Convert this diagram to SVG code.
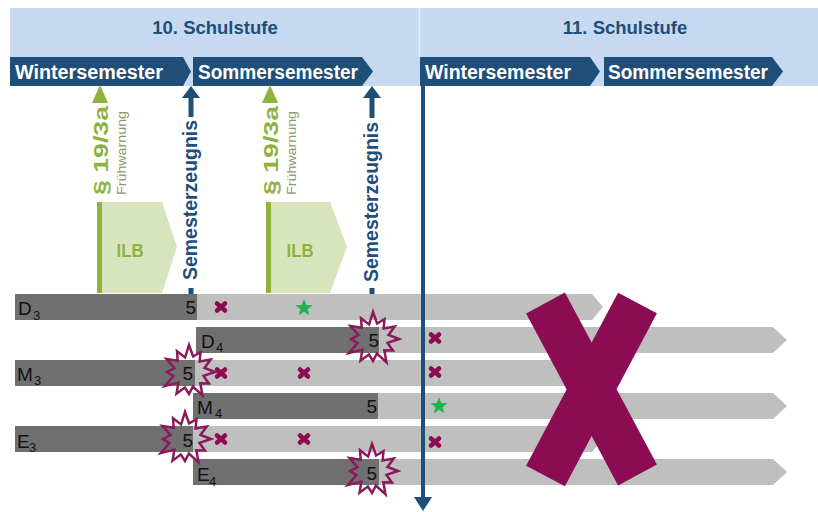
<svg xmlns="http://www.w3.org/2000/svg" xmlns:xlink="http://www.w3.org/1999/xlink" width="818" height="512" viewBox="0 0 818 512">
  <style>
    text { font-family: "Liberation Sans", Arial, sans-serif; }
    .title { font-size: 18.5px; font-weight: bold; fill: #1f4e79; text-anchor: middle; }
    .sem { font-size: 20px; font-weight: bold; fill: #ffffff; }
    .chev { fill: #1f4e79; }
    .par { font-size: 21px; font-weight: bold; fill: #8fb23e; }
    .fw { font-size: 13.5px; fill: #8c9a6a; }
    .zeug { font-size: 20px; font-weight: bold; fill: #1f4e79; }
    .ilb { fill: #d8e4be; }
    .ilbt { font-size: 19px; font-weight: bold; fill: #8fb23e; text-anchor: middle; }
    .light { fill: #bfbfbf; }
    .dark { fill: #707070; }
    .lbl { font-size: 19px; fill: #111111; }
    .sub { font-size: 13px; fill: #111111; }
    .five { font-size: 19px; fill: #111111; text-anchor: end; }
    .burst { fill: none; stroke: #8b1a5a; stroke-width: 2.5; stroke-linejoin: miter; }
    .cross { stroke: #8b0c52; stroke-width: 4.5; stroke-linecap: round; fill: none; }
    .star { fill: #21b24f; }
    .green { fill: #8fb23e; }
    .blue { fill: #1f4e79; }
  </style>
  <defs>
    <polygon id="burstShape" class="burst" points="26,0 14.5,3.9 19.9,11.5 11.3,11.3 13.5,23.4 3.9,14.5 0,22 -4.1,15.5 -12.5,21.7 -10.6,10.6 -24.2,14 -15.5,4.1 -22,0 -14.5,-3.9 -22.5,-13 -11.3,-11.3 -12,-20.8 -3.9,-14.5 0,-27 4.1,-15.5 11.5,-19.9 10.6,-10.6 21.7,-12.5 15.5,-4.1"/>
    <path id="crossShape" class="cross" d="M-4,-3.5 L4,3.5 M4,-3.5 L-4,3.5"/>
    <polygon id="starShape" class="star" points="0,-9 2.17,-2.99 8.56,-2.78 3.52,1.14 5.29,7.28 0,3.7 -5.29,7.28 -3.52,1.14 -8.56,-2.78 -2.17,-2.99"/>
  </defs>

  <rect width="818" height="512" fill="#ffffff"/>

  <g id="header">
    <rect x="10" y="8" width="808" height="78" fill="#c6d9f0"/>
    <line x1="419.5" y1="8" x2="419.5" y2="57" stroke="#e4edf8" stroke-width="1.5"/>
    <text class="title" x="215" y="34">10. Schulstufe</text>
    <text class="title" x="625" y="34">11. Schulstufe</text>
  </g>

  <g id="ws10">
    <polygon class="chev" points="10,57 183,57 191,71.5 183,86 10,86"/>
    <text class="sem" x="15" y="79" textLength="148" lengthAdjust="spacingAndGlyphs">Wintersemester</text>
  </g>
  <g id="ss10">
    <polygon class="chev" points="193,57 362,57 373,71.5 362,86 193,86"/>
    <text class="sem" x="198" y="79" textLength="160" lengthAdjust="spacingAndGlyphs">Sommersemester</text>
  </g>
  <g id="ws11">
    <polygon class="chev" points="420,57 590,57 600,71.5 590,86 420,86"/>
    <text class="sem" x="425" y="79" textLength="146" lengthAdjust="spacingAndGlyphs">Wintersemester</text>
  </g>
  <g id="ss11">
    <polygon class="chev" points="604,57 772,57 783,71.5 772,86 604,86"/>
    <text class="sem" x="608" y="79" textLength="160" lengthAdjust="spacingAndGlyphs">Sommersemester</text>
  </g>

  <g id="ilb1">
    <polygon class="ilb" points="102,202 162,202 177,247 162,293 102,293"/>
    <text class="ilbt" x="130" y="257" textLength="27" lengthAdjust="spacingAndGlyphs">ILB</text>
  </g>
  <g id="ilb2">
    <polygon class="ilb" points="271,202 330,202 347,247 330,293 271,293"/>
    <text class="ilbt" x="300" y="257" textLength="27" lengthAdjust="spacingAndGlyphs">ILB</text>
  </g>

  <g id="rows">
    <g id="row-D3">
      <polygon class="light" points="15,294 592,294 603,307 592,320 15,320"/>
      <rect class="dark" x="15" y="294" width="182" height="26"/>
      <text class="lbl" x="18" y="315">D</text><text class="sub" x="33" y="320">3</text>
      <text class="five" x="196" y="314">5</text>
    </g>
    <g id="row-D4">
      <polygon class="light" points="196,327 773,327 787,340 773,353 196,353"/>
      <rect class="dark" x="196" y="327" width="183" height="26"/>
      <text class="lbl" x="201" y="348">D</text><text class="sub" x="216" y="352">4</text>
      <text class="five" x="379" y="347">5</text>
    </g>
    <g id="row-M3">
      <polygon class="light" points="15,360 592,360 603,373 592,386 15,386"/>
      <rect class="dark" x="15" y="360" width="180" height="26"/>
      <text class="lbl" x="17" y="381">M</text><text class="sub" x="34" y="385">3</text>
      <text class="five" x="193" y="380">5</text>
    </g>
    <g id="row-M4">
      <polygon class="light" points="193,393 773,393 787,406 773,419 193,419"/>
      <rect class="dark" x="193" y="393" width="185" height="26"/>
      <text class="lbl" x="197" y="414">M</text><text class="sub" x="215" y="418">4</text>
      <text class="five" x="377" y="413">5</text>
    </g>
    <g id="row-E3">
      <polygon class="light" points="15,426 592,426 603,439 592,452 15,452"/>
      <rect class="dark" x="15" y="426" width="178" height="26"/>
      <text class="lbl" x="17" y="448">E</text><text class="sub" x="29" y="452">3</text>
      <text class="five" x="193" y="447">5</text>
    </g>
    <g id="row-E4">
      <polygon class="light" points="193,459 773,459 787,472 773,485 193,485"/>
      <rect class="dark" x="193" y="459" width="186" height="26"/>
      <text class="lbl" x="197" y="481">E</text><text class="sub" x="209" y="486">4</text>
      <text class="five" x="377" y="480">5</text>
    </g>
  </g>

  <g id="bursts">
    <use xlink:href="#burstShape" href="#burstShape" x="189" y="372"/>
    <use xlink:href="#burstShape" href="#burstShape" x="185" y="439"/>
    <use xlink:href="#burstShape" href="#burstShape" x="373" y="339"/>
    <use xlink:href="#burstShape" href="#burstShape" x="372" y="471"/>
  </g>

  <g id="marks">
    <use xlink:href="#crossShape" href="#crossShape" x="221" y="307"/>
    <use xlink:href="#crossShape" href="#crossShape" x="221" y="373"/>
    <use xlink:href="#crossShape" href="#crossShape" x="304" y="373"/>
    <use xlink:href="#crossShape" href="#crossShape" x="221" y="439"/>
    <use xlink:href="#crossShape" href="#crossShape" x="304" y="439"/>
    <use xlink:href="#crossShape" href="#crossShape" x="435" y="338"/>
    <use xlink:href="#crossShape" href="#crossShape" x="435" y="372"/>
    <use xlink:href="#crossShape" href="#crossShape" x="435" y="442"/>
    <use xlink:href="#starShape" href="#starShape" x="304" y="308"/>
    <use xlink:href="#starShape" href="#starShape" x="439" y="406"/>
  </g>

  <g id="connectors">
    <!-- Frühwarnung 1 -->
    <polygon class="green" points="100,85 108,103 92,103"/>
    <rect class="green" x="97" y="202" width="5" height="91"/>
    <!-- Semesterzeugnis 1 -->
    <polygon class="blue" points="191,86 200,98 182,98"/>
    <rect class="blue" x="188.5" y="97" width="5" height="20"/>
    <rect class="blue" x="188.5" y="288" width="5" height="6"/>
    <!-- Frühwarnung 2 -->
    <polygon class="green" points="270,85 278,103 262,103"/>
    <rect class="green" x="266" y="202" width="5" height="91"/>
    <!-- Semesterzeugnis 2 -->
    <polygon class="blue" points="372,86 381,98 363,98"/>
    <rect class="blue" x="369.5" y="97" width="5" height="21"/>
    <rect class="blue" x="369.5" y="288" width="5" height="6"/>
    <!-- Year boundary -->
    <rect class="blue" x="421" y="86" width="4" height="412"/>
    <polygon class="blue" points="414,497 432,497 423,511"/>
  </g>

  <g id="arrow-labels">
    <text class="par" transform="translate(108,195) rotate(-90)" textLength="89" lengthAdjust="spacingAndGlyphs">§ 19/3a</text>
    <text class="fw" transform="translate(126,195) rotate(-90)" textLength="84" lengthAdjust="spacingAndGlyphs">Frühwarnung</text>
    <text class="zeug" transform="translate(197,280) rotate(-90)" textLength="160" lengthAdjust="spacingAndGlyphs">Semesterzeugnis</text>
    <text class="par" transform="translate(278,195) rotate(-90)" textLength="89" lengthAdjust="spacingAndGlyphs">§ 19/3a</text>
    <text class="fw" transform="translate(296,195) rotate(-90)" textLength="84" lengthAdjust="spacingAndGlyphs">Frühwarnung</text>
    <text class="zeug" transform="translate(378,282) rotate(-90)" textLength="160" lengthAdjust="spacingAndGlyphs">Semesterzeugnis</text>
  </g>

  <g id="big-x">
    <line x1="545.5" y1="303" x2="637.5" y2="475" stroke="#8b0c52" stroke-width="44"/>
    <line x1="637.5" y1="303" x2="545.5" y2="476" stroke="#8b0c52" stroke-width="44"/>
  </g>
</svg>
